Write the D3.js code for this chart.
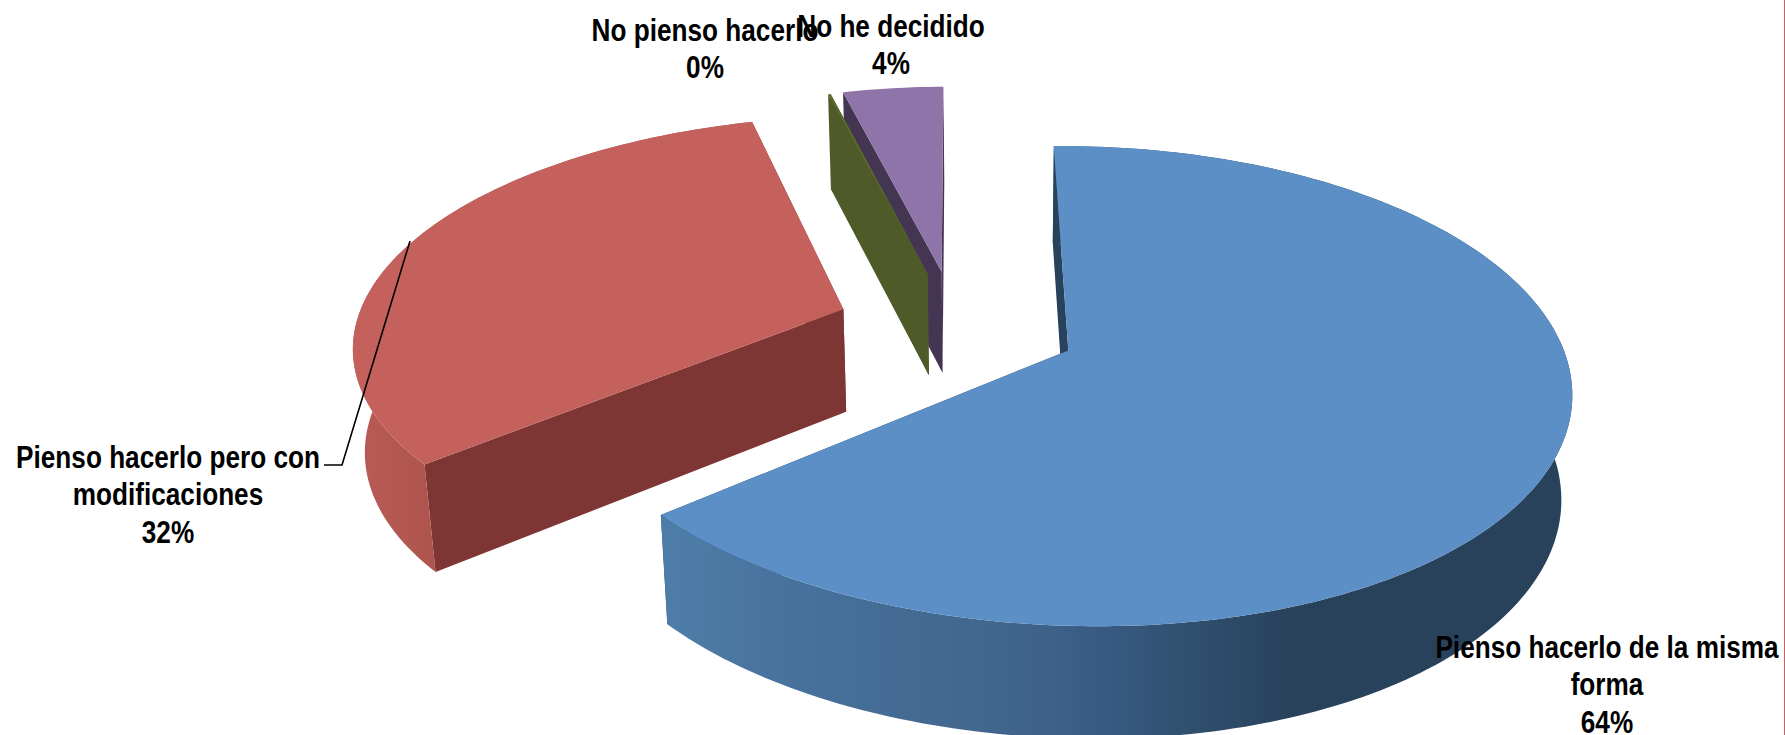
<!DOCTYPE html>
<html><head><meta charset="utf-8">
<script src="https://cdn.jsdelivr.net/npm/d3@7/dist/d3.min.js"></script>
<style>html,body{margin:0;padding:0;background:#fff}svg{display:block}
text{font-family:"Liberation Sans",Arial,sans-serif;font-weight:700;font-size:32px;fill:#000;text-anchor:middle}</style>
</head><body><svg id="c" width="1785" height="735"></svg>
<script>
const categories=["Pienso hacerlo de la misma forma","Pienso hacerlo pero con modificaciones","No pienso hacerlo","No he decidido"];
const values=[64,32.2,0.1,3.9];
const percentLabels=["64%","32%","0%","4%"];
const labelLines=[["Pienso hacerlo de la misma","forma"],["Pienso hacerlo pero con","modificaciones"],["No pienso hacerlo"],["No he decidido"]];
const topColors=["#5b8fc5","#c5615d","#5a6b2f","#8f74a9"];
const wallColors=["#28425b","#7e3634","#4e5a27","#443552"];
const rimColors=[
  [[660,"#4f7da9"],[700,"#4c7ba6"],[760,"#49749f"],[820,"#46709c"],[900,"#436b94"],[980,"#42678e"],[1060,"#3c6087"],[1120,"#375880"],[1180,"#325170"],[1240,"#2c4966"],[1290,"#28425b"],[1785,"#28425b"]],
  [[350,"#ba5b56"],[440,"#ad544d"]],
  [[0,"#4e5a27"],[1,"#4e5a27"]],
  [[0,"#443552"],[1,"#443552"]]];

// view model
const Cx=956,Cy=326,A=226.8,B=488,K=0.146,My=0.015,H=103,Nx=994,Conv=0.00018;
const explode=[0.25,0.245,0.245,0.25];
const svg=d3.select("#c");
const defs=svg.append("defs");
const pie=d3.pie().sort(null).value(d=>d);
const arcs=pie(values);
function P(X,Y,low){
  const s=1/(1+K*Y);
  const sy=1/(1+K*Y-My*X);
  let x=Cx+B*X*s,y=Cy-A*Y*sy;
  if(low){const h=H*Math.sqrt(s);x+=(Nx-x)*Conv*h;y+=h;}
  return [x,y];
}
const line=d3.line();
function pts(arc,E){
  const mid=(arc.startAngle+arc.endAngle)/2;
  const ox=E*Math.sin(mid),oy=E*Math.cos(mid);
  const n=Math.max(2,Math.ceil((arc.endAngle-arc.startAngle)/0.02));
  const rim=d3.range(n+1).map(i=>arc.startAngle+(arc.endAngle-arc.startAngle)*i/n).map(t=>[ox+Math.sin(t),oy+Math.cos(t)]);
  return {o:[ox,oy],rim};
}
[3,2,1,0].forEach(i=>{
  const arc=arcs[i],{o,rim}=pts(arc,explode[i]);
  const g=svg.append("g");
  const first=rim[0],last=rim[rim.length-1];
  const gid="rim"+i;
  const gr=defs.append("linearGradient").attr("id",gid).attr("gradientUnits","userSpaceOnUse").attr("x1",0).attr("x2",1785).attr("y1",0).attr("y2",0);
  rimColors[i].forEach(([x,c])=>gr.append("stop").attr("offset",x/1785).attr("stop-color",c));
  const wall=(p)=>line([P(o[0],o[1]),P(p[0],p[1]),P(p[0],p[1],true),P(o[0],o[1],true)])+"Z";
  const startBack=i===3||i===2||i===0;
  g.append("path").attr("d",wall(startBack?last:first)).attr("fill",wallColors[i]);
  if(i!==3&&i!==2){
    const band=rim.map(p=>P(p[0],p[1])).concat(rim.slice().reverse().map(p=>P(p[0],p[1],true)));
    g.append("path").attr("d",line(band)+"Z").attr("fill",i<2?`url(#${gid})`:wallColors[i]);
  }
  g.append("path").attr("d",wall(startBack?first:last)).attr("fill",wallColors[i]);
  g.append("path").attr("d",line([P(o[0],o[1])].concat(rim.map(p=>P(p[0],p[1]))))+"Z").attr("fill",topColors[i]);
});
// leader line
svg.append("path").attr("d",line([[410,241],[342,465],[324,465]])).attr("fill","none").attr("stroke","#000").attr("stroke-width",1.6);
// frame edge on the right
svg.append("path").attr("d",line([[1784.5,0],[1784.5,735]])).attr("fill","none").attr("stroke","#c0646a").attr("stroke-width",1);
// labels
const anchors=[[1607,658],[168,468],[705,41],[891,37]];
const lh=37.5;
categories.forEach((c,i)=>{
  const lines=labelLines[i].concat([percentLabels[i]]);
  const g=svg.append("g").attr("transform",`translate(${anchors[i][0]},${anchors[i][1]}) scale(0.818,1)`);
  lines.forEach((t,j)=>g.append("text").attr("y",j*lh).text(t));
});
</script></body></html>
